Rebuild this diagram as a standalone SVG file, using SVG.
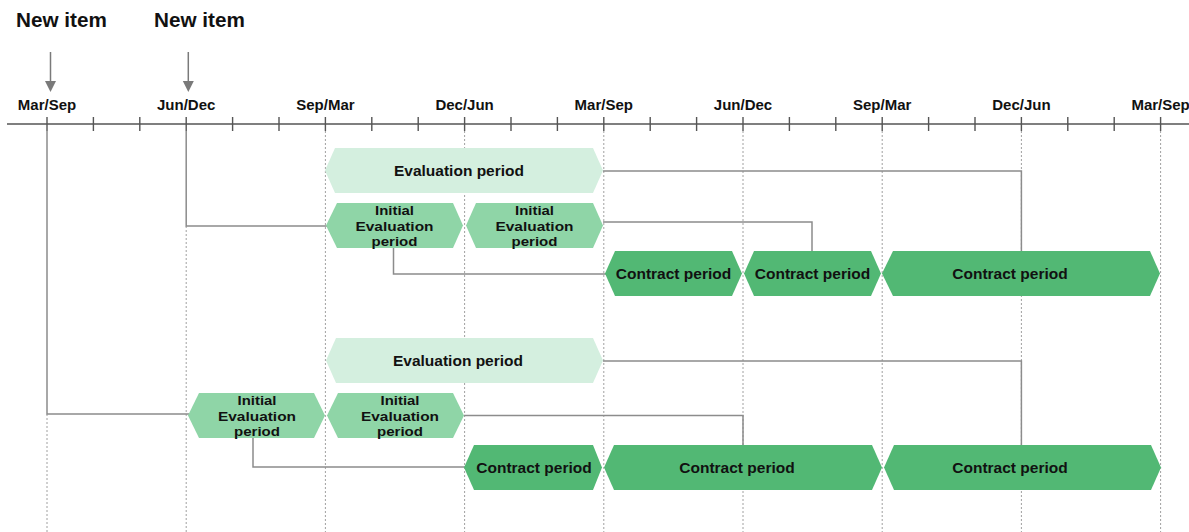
<svg xmlns="http://www.w3.org/2000/svg" width="1189" height="532" viewBox="0 0 1189 532">
<style>
text{font-family:"Liberation Sans",Arial,sans-serif;font-weight:bold;fill:#111;text-anchor:middle}
.ni{font-size:20.7px;text-anchor:start}
.lbl{font-size:15px}
.t{font-size:15.5px}
.s{font-size:13.5px}
.grid{stroke:#a0a0a0;stroke-width:1;stroke-dasharray:2 2;fill:none}
.tick{stroke:#555;stroke-width:1.4}
.conn{stroke:#8c8c8c;stroke-width:1.5;fill:none}
.ev{fill:#d4efdf}
.ini{fill:#8fd5a7}
.con{fill:#52b874}
.arr{stroke:#7a7a7a;stroke-width:1.5}
</style>
<rect width="1189" height="532" fill="#fff"/>
<g id="headers">
<text class="ni" x="16" y="27">New item</text>
<text class="ni" x="154" y="27">New item</text>
<line class="arr" x1="50.5" y1="52" x2="50.5" y2="83"/>
<polygon points="45,81 56,81 50.5,92" fill="#7a7a7a"/>
<line class="arr" x1="188.3" y1="52" x2="188.3" y2="83"/>
<polygon points="182.8,81 193.8,81 188.3,92" fill="#7a7a7a"/>
</g>
<g id="grid">
<line class="grid" x1="47" y1="414" x2="47" y2="532"/>
<line class="grid" x1="186.2" y1="226" x2="186.2" y2="532"/>
<line class="grid" x1="325.4" y1="131" x2="325.4" y2="532"/>
<line class="grid" x1="464.6" y1="131" x2="464.6" y2="532"/>
<line class="grid" x1="603.8" y1="131" x2="603.8" y2="532"/>
<line class="grid" x1="743" y1="131" x2="743" y2="532"/>
<line class="grid" x1="882.2" y1="131" x2="882.2" y2="532"/>
<line class="grid" x1="1021.4" y1="131" x2="1021.4" y2="532"/>
<line class="grid" x1="1160.6" y1="131" x2="1160.6" y2="532"/>
</g>
<g id="axis">
<line x1="7" y1="124" x2="1189" y2="124" stroke="#555" stroke-width="1.5"/>
<path class="tick" d="M47,117V131M93.4,117V131M139.8,117V131M186.2,117V131M232.6,117V131M279,117V131M325.4,117V131M371.8,117V131M418.2,117V131M464.6,117V131M511,117V131M557.4,117V131M603.8,117V131M650.2,117V131M696.6,117V131M743,117V131M789.4,117V131M835.8,117V131M882.2,117V131M928.6,117V131M975,117V131M1021.4,117V131M1067.8,117V131M1114.2,117V131M1160.6,117V131"/>
<text class="lbl" x="47" y="110">Mar/Sep</text>
<text class="lbl" x="186.2" y="110">Jun/Dec</text>
<text class="lbl" x="325.4" y="110">Sep/Mar</text>
<text class="lbl" x="464.6" y="110">Dec/Jun</text>
<text class="lbl" x="603.8" y="110">Mar/Sep</text>
<text class="lbl" x="743" y="110">Jun/Dec</text>
<text class="lbl" x="882.2" y="110">Sep/Mar</text>
<text class="lbl" x="1021.4" y="110">Dec/Jun</text>
<text class="lbl" x="1160.6" y="110">Mar/Sep</text>
</g>
<g id="connectors">
<path class="conn" d="M186.2,131V226H327"/>
<path class="conn" d="M603,171H1021.4V251"/>
<path class="conn" d="M603,222H812V251"/>
<path class="conn" d="M393.5,248V274H606"/>
<path class="conn" d="M47,131V414H189"/>
<path class="conn" d="M603,361H1021.4V445"/>
<path class="conn" d="M464,415.5H743V445"/>
<path class="conn" d="M253,438V467H465"/>
</g>
<g id="eval1">
<polygon class="ev" points="325,170.5 335,148 593,148 603,170.5 593,193 335,193"/>
<text class="t" x="459" y="176">Evaluation period</text>
</g>
<g id="init1">
<polygon class="ini" points="326,225.5 337,203 453,203 463,225.5 453,248 337,248"/>
<text class="s" x="394.5" y="215.3" textLength="39" lengthAdjust="spacingAndGlyphs">Initial</text>
<text class="s" x="394.5" y="230.5" textLength="78" lengthAdjust="spacingAndGlyphs">Evaluation</text>
<text class="s" x="394.5" y="245.7" textLength="46" lengthAdjust="spacingAndGlyphs">period</text>
</g>
<g id="init2">
<polygon class="ini" points="466,225.5 476,203 593,203 603,225.5 593,248 476,248"/>
<text class="s" x="534.5" y="215.3" textLength="39" lengthAdjust="spacingAndGlyphs">Initial</text>
<text class="s" x="534.5" y="230.5" textLength="78" lengthAdjust="spacingAndGlyphs">Evaluation</text>
<text class="s" x="534.5" y="245.7" textLength="46" lengthAdjust="spacingAndGlyphs">period</text>
</g>
<g id="contract1">
<polygon class="con" points="605,273.5 615,251 732,251 742,273.5 732,296 615,296"/>
<text class="t" x="673.5" y="279">Contract period</text>
</g>
<g id="contract2">
<polygon class="con" points="744,273.5 754,251 871,251 881,273.5 871,296 754,296"/>
<text class="t" x="812.5" y="279">Contract period</text>
</g>
<g id="contract3">
<polygon class="con" points="882,273.5 893,251 1150,251 1160,273.5 1150,296 893,296"/>
<text class="t" x="1010" y="279">Contract period</text>
</g>
<g id="eval2">
<polygon class="ev" points="326,360.5 336,338 593,338 603,360.5 593,383 336,383"/>
<text class="t" x="458" y="366">Evaluation period</text>
</g>
<g id="init3">
<polygon class="ini" points="188,415.5 199,393 314,393 325,415.5 314,438 199,438"/>
<text class="s" x="257" y="405.3" textLength="39" lengthAdjust="spacingAndGlyphs">Initial</text>
<text class="s" x="257" y="420.5" textLength="78" lengthAdjust="spacingAndGlyphs">Evaluation</text>
<text class="s" x="257" y="435.7" textLength="46" lengthAdjust="spacingAndGlyphs">period</text>
</g>
<g id="init4">
<polygon class="ini" points="327,415.5 338,393 453,393 464,415.5 453,438 338,438"/>
<text class="s" x="400" y="405.3" textLength="39" lengthAdjust="spacingAndGlyphs">Initial</text>
<text class="s" x="400" y="420.5" textLength="78" lengthAdjust="spacingAndGlyphs">Evaluation</text>
<text class="s" x="400" y="435.7" textLength="46" lengthAdjust="spacingAndGlyphs">period</text>
</g>
<g id="contract4">
<polygon class="con" points="464,467.5 474,445 593,445 602,467.5 593,490 474,490"/>
<text class="t" x="534" y="473">Contract period</text>
</g>
<g id="contract5">
<polygon class="con" points="604,467.5 614,445 872,445 882,467.5 872,490 614,490"/>
<text class="t" x="737" y="473">Contract period</text>
</g>
<g id="contract6">
<polygon class="con" points="884,467.5 894,445 1151,445 1161,467.5 1151,490 894,490"/>
<text class="t" x="1010" y="473">Contract period</text>
</g>
</svg>
